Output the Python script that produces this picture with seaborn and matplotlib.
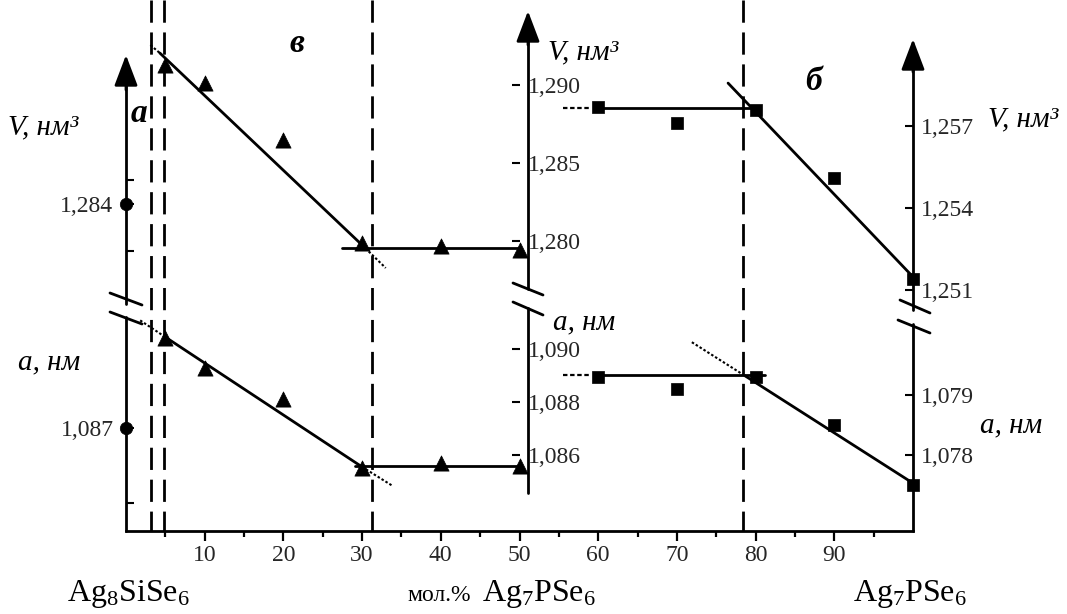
import matplotlib
matplotlib.use("Agg")
import matplotlib.pyplot as plt
import seaborn as sns

# ---------------- data ----------------
tri_x = [5, 10, 20, 30, 40, 50]
tri_V = [1.2913, 1.2901, 1.2865, 1.2799, 1.2797, 1.2794]
tri_a = [1.0904, 1.0893, 1.0881, 1.0855, 1.0857, 1.0856]

sq_x = [60, 70, 80, 90, 100]
sq_V = [1.2577, 1.2571, 1.2576, 1.2551, 1.2514]
sq_a = [1.0793, 1.0791, 1.0793, 1.0785, 1.0775]

pure_x = [0]
pure_V = [1.284]
pure_a = [1.087]

# trend lines (x: mol.%, y: series units)
triV_pre_x, triV_pre_y = [3.1, 4.3], [1.29256, 1.29205]
triV_slope_x, triV_slope_y = [4.3, 30.0], [1.29205, 1.27974]
triV_ext_x, triV_ext_y = [30.0, 33.0], [1.27974, 1.27827]
triV_flat_x, triV_flat_y = [27.4, 50.0], [1.27955, 1.27955]

tria_pre_x, tria_pre_y = [1.8, 5.0], [1.09108, 1.09045]
tria_slope_x, tria_slope_y = [5.0, 30.0], [1.09045, 1.08555]
tria_ext_x, tria_ext_y = [30.0, 33.9], [1.08555, 1.08483]
tria_flat_x, tria_flat_y = [29.1, 50.0], [1.08558, 1.08558]

sqV_lead_x, sqV_lead_y = [55.5, 59.0], [1.25766, 1.25766]
sqV_flat_x, sqV_flat_y = [60.0, 80.6], [1.25766, 1.25766]
sqV_slope_x, sqV_slope_y = [76.5, 100.0], [1.25857, 1.25148]

sqa_lead_x, sqa_lead_y = [55.5, 59.0], [1.07933, 1.07933]
sqa_flat_x, sqa_flat_y = [60.0, 81.2], [1.07933, 1.07933]
sqa_pre_x, sqa_pre_y = [71.9, 78.65], [1.07988, 1.07932]
sqa_slope_x, sqa_slope_y = [78.65, 100.0], [1.07932, 1.07753]

boundaries = [3.2, 4.8, 31.3, 78.4]

# axis ticks
x_major = [10, 20, 30, 40, 50, 60, 70, 80, 90]
x_minor = [5, 15, 25, 35, 45, 55, 65, 75, 85, 95]
midV_ticks = [1.280, 1.285, 1.290]
mida_ticks = [1.086, 1.088, 1.090]
rightV_ticks = [1.251, 1.254, 1.257]
righta_ticks = [1.078, 1.079]
leftV_ticks = [1.282, 1.284, 1.285]
leftV_labels = ["", "1,284", ""]
lefta_ticks = [1.086, 1.087]
lefta_labels = ["", "1,087"]


def fmt(v):
    return f"{v:.3f}".replace(".", ",")


# ---------------- style ----------------
sns.set_theme(style="white")
plt.rcParams["font.family"] = ["Liberation Serif", "DejaVu Serif"]
plt.rcParams["mathtext.fontset"] = "custom"
plt.rcParams["mathtext.rm"] = "Liberation Serif"
plt.rcParams["mathtext.it"] = "Liberation Serif:italic"
plt.rcParams["mathtext.bf"] = "Liberation Serif:bold"

W, H = 1067, 614
fig = plt.figure(figsize=(W / 100, H / 100), dpi=100)
fig.patch.set_facecolor("white")
X0, S = 126.0, 7.87
XL = (-X0 / S, (W - X0) / S)

# pixel-space decoration axes
axp = fig.add_axes([0, 0, 1, 1])
axp.set_xlim(0, W)
axp.set_ylim(H, 0)
axp.axis("off")

# composition axis (x in mol.%, y in pixels)
ax0 = fig.add_axes([0, 0, 1, 1], zorder=1)
ax0.set_xlim(*XL)
ax0.set_ylim(H, 0)
ax0.patch.set_alpha(0)
for side in ["top", "left", "right"]:
    ax0.spines[side].set_visible(False)
ax0.spines["bottom"].set_position(("data", 531))
ax0.spines["bottom"].set_bounds(0, 100)
ax0.spines["bottom"].set_linewidth(2)
ax0.spines["bottom"].set_color("black")
ax0.set_yticks([])
ax0.set_xticks(x_major, [str(v) for v in x_major])
ax0.set_xticks(x_minor, minor=True)
ax0.tick_params(axis="x", which="major", direction="out", length=7, width=1.6,
                labelsize=17, pad=3, color="black", bottom=True)
ax0.tick_params(axis="x", which="minor", direction="out", length=4.5, width=1.6,
                color="black", bottom=True)
ax0.grid(False)

# composition boundaries
for b in boundaries:
    ax0.plot([b, b], [0, 531], color="black", lw=2.0, linestyle=(0, (8, 3.5)))


def overlay(v_ref, p_ref, k):
    ax = fig.add_axes([0, 0, 1, 1], zorder=2)
    ax.set_xlim(*XL)
    ax.set_ylim(v_ref - (H - p_ref) * k, v_ref + p_ref * k)
    ax.patch.set_alpha(0)
    for s in ax.spines.values():
        s.set_visible(False)
    ax.set_xticks([])
    ax.set_yticks([])
    ax.grid(False)
    return ax


ax_midV = overlay(1.280, 241, 0.005 / 78)
ax_mida = overlay(1.086, 455, 0.004 / 106)
ax_rV = overlay(1.257, 126, 0.006 / 164)
ax_ra = overlay(1.079, 395, 0.001 / 60)
ax_lV = overlay(1.285, 180, 0.003 / 71)
ax_la = overlay(1.087, 428, 0.001 / 75)


def right_ticks(ax, xpos, ticks):
    ax.yaxis.tick_right()
    ax.spines["right"].set_position(("data", xpos))
    ax.set_yticks(ticks, [fmt(t) for t in ticks])
    ax.tick_params(axis="y", direction="in", length=6, width=1.5, pad=6,
                   labelsize=17, color="black", right=True, left=False,
                   labelright=True, labelleft=False)


right_ticks(ax_midV, 50, midV_ticks)
right_ticks(ax_mida, 50, mida_ticks)
right_ticks(ax_rV, 100, rightV_ticks)
right_ticks(ax_ra, 100, righta_ticks)


def left_ticks(ax, ticks, labels):
    ax.yaxis.tick_left()
    ax.spines["left"].set_position(("data", 0))
    ax.set_yticks(ticks, labels)
    ax.tick_params(axis="y", direction="in", length=6, width=1.5, pad=9,
                   labelsize=17, color="black", left=True, right=False,
                   labelleft=True, labelright=False)


left_ticks(ax_lV, leftV_ticks, leftV_labels)
left_ticks(ax_la, lefta_ticks, lefta_labels)


def line(ax, x, y, style="-", lw=2.0):
    sns.lineplot(x=x, y=y, ax=ax, color="black", lw=lw, linestyle=style,
                 legend=False, zorder=3)


dot = (0, (1.2, 1.0))
dash = (0, (2.0, 1.2))

line(ax_midV, triV_pre_x, triV_pre_y, dot, 1.5)
line(ax_midV, triV_slope_x, triV_slope_y)
line(ax_midV, triV_ext_x, triV_ext_y, dot, 1.5)
line(ax_midV, triV_flat_x, triV_flat_y)

line(ax_mida, tria_pre_x, tria_pre_y, dot, 1.5)
line(ax_mida, tria_slope_x, tria_slope_y)
line(ax_mida, tria_ext_x, tria_ext_y, dot, 1.5)
line(ax_mida, tria_flat_x, tria_flat_y)

line(ax_rV, sqV_lead_x, sqV_lead_y, dash, 1.6)
line(ax_rV, sqV_flat_x, sqV_flat_y)
line(ax_rV, sqV_slope_x, sqV_slope_y)

line(ax_ra, sqa_lead_x, sqa_lead_y, dash, 1.6)
line(ax_ra, sqa_flat_x, sqa_flat_y)
line(ax_ra, sqa_pre_x, sqa_pre_y, dot, 1.5)
line(ax_ra, sqa_slope_x, sqa_slope_y)

sns.scatterplot(x=tri_x, y=tri_V, ax=ax_midV, marker="^", s=120, color="black",
                edgecolor="black", linewidth=0.5, zorder=5, legend=False)
sns.scatterplot(x=tri_x, y=tri_a, ax=ax_mida, marker="^", s=120, color="black",
                edgecolor="black", linewidth=0.5, zorder=5, legend=False)
sns.scatterplot(x=sq_x, y=sq_V, ax=ax_rV, marker="s", s=75, color="black",
                edgecolor="black", linewidth=0.5, zorder=5, legend=False)
sns.scatterplot(x=sq_x, y=sq_a, ax=ax_ra, marker="s", s=75, color="black",
                edgecolor="black", linewidth=0.5, zorder=5, legend=False)
sns.scatterplot(x=pure_x, y=pure_V, ax=ax_lV, marker="o", s=80, color="black",
                edgecolor="black", linewidth=0.5, zorder=5, legend=False, clip_on=False)
sns.scatterplot(x=pure_x, y=pure_a, ax=ax_la, marker="o", s=80, color="black",
                edgecolor="black", linewidth=0.5, zorder=5, legend=False, clip_on=False)

# ---------------- axis lines, arrows, breaks (pixel space) ----------------
K = "black"
axp.plot([126, 126], [531, 317], color=K, lw=2)
axp.plot([126, 126], [304, 80], color=K, lw=2)
axp.plot([528, 528], [493, 308], color=K, lw=2)
axp.plot([528, 528], [289, 33], color=K, lw=2)
axp.plot([913, 913], [531, 324], color=K, lw=2)
axp.plot([913, 913], [310, 60], color=K, lw=2)


def arrow(x, tip, base):
    axp.annotate("", xy=(x, tip), xytext=(x, base),
                 arrowprops=dict(arrowstyle="-|>,head_length=1.9,head_width=0.72",
                                 mutation_scale=10, color=K, lw=2,
                                 shrinkA=0, shrinkB=0))


arrow(126, 55, 90)
arrow(528, 11, 45)
arrow(913, 39, 72)

for (x1, y1, x2, y2) in [(110, 293, 142, 305), (110, 312, 142, 324),
                         (513, 283, 543, 295), (513, 302, 543, 315),
                         (900, 300, 930, 313), (898, 320, 930, 333)]:
    axp.plot([x1, x2], [y1, y2], color=K, lw=2)

# ---------------- texts ----------------
it = dict(fontstyle="italic", fontsize=21, color=K)
axp.text(8, 127, "V, нм³", ha="left", va="center", **it)
axp.text(18, 362, "a, нм", ha="left", va="center", **it)
axp.text(548, 52, "V, нм³", ha="left", va="center", **it)
axp.text(553, 322, "a, нм", ha="left", va="center", **it)
axp.text(988, 119, "V, нм³", ha="left", va="center", **it)
axp.text(980, 425, "a, нм", ha="left", va="center", **it)

bi = dict(fontstyle="italic", fontweight="bold", fontsize=24, color=K,
          ha="center", va="center")
axp.text(139, 114, "а", **bi)
axp.text(297, 44, "в", **bi)
axp.text(814, 82, "б", **bi)

axp.text(67, 601, r"Ag$_{8}$SiSe$_{6}$", fontsize=23, ha="left", va="baseline", color=K)
axp.text(407, 601, "мол.%", fontsize=17, ha="left", va="baseline", color=K)
axp.text(482, 601, r"Ag$_{7}$PSe$_{6}$", fontsize=23, ha="left", va="baseline", color=K)
axp.text(853, 601, r"Ag$_{7}$PSe$_{6}$", fontsize=23, ha="left", va="baseline", color=K)

fig.savefig("out.png", dpi=100, facecolor="white")
